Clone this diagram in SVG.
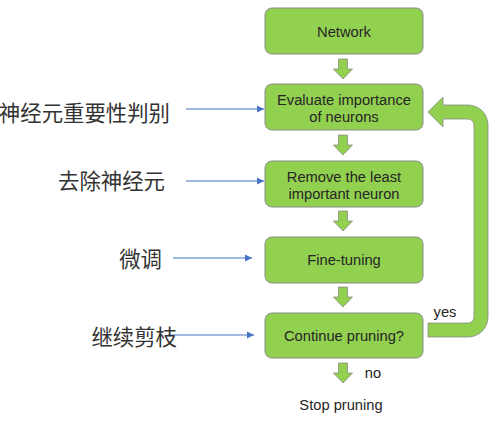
<svg xmlns="http://www.w3.org/2000/svg" width="498" height="424" viewBox="0 0 498 424">
<style>
.box{fill:#92D050;stroke:#8a8a8a;stroke-width:1}
.blk{fill:#92D050;stroke:#8a8a8a;stroke-width:0.8}
.t{font-family:"Liberation Sans",Arial,sans-serif;font-size:14.7px;fill:#262626;text-anchor:middle}
.cn{font-family:"Noto Sans CJK SC",sans-serif;font-size:21.4px;fill:#333333;text-anchor:end}
.bl{stroke:#4472C4;stroke-width:1;fill:none;marker-end:url(#ah)}
</style>
<defs>
<marker id="ah" markerUnits="userSpaceOnUse" markerWidth="8" markerHeight="8" viewBox="0 0 8 8" refX="7" refY="4" orient="auto">
<path d="M0,0.5 L7,4 L0,7.5 Z" fill="#4472C4"/>
</marker>
<path id="down" d="M-4.5,0 L4.5,0 L4.5,10 L9.5,10 L0,20 L-9.5,10 L-4.5,10 Z"/>
</defs>
<rect width="498" height="424" fill="#ffffff"/>
<g id="connectors">
<use href="#down" class="blk" x="343" y="59"/>
<use href="#down" class="blk" x="343" y="135"/>
<use href="#down" class="blk" x="343" y="211"/>
<use href="#down" class="blk" x="343" y="287"/>
<use href="#down" class="blk" x="343" y="363"/>
<path class="blk" d="M428,112 L443,97 L443,105 L468,105 A20,20 0 0 1 488,125 L488,317 A20,20 0 0 1 468,337 L428,337 L428,323 L468,323 A6,6 0 0 0 474,317 L474,125 A6,6 0 0 0 468,119 L443,119 L443,127 Z"/>
<line class="bl" x1="186" y1="109" x2="264" y2="109"/>
<line class="bl" x1="186" y1="181" x2="264" y2="181"/>
<line class="bl" x1="173" y1="258" x2="252" y2="258"/>
<line class="bl" x1="168" y1="335" x2="254" y2="335"/>
<text class="t" x="445" y="317">yes</text>
<text class="t" x="373" y="378">no</text>
</g>
<g id="network">
<rect class="box" x="265" y="8" width="158" height="46" rx="7"/>
<text class="t" x="344" y="37">Network</text>
</g>
<g id="evaluate">
<rect class="box" x="265" y="84" width="158" height="46" rx="7"/>
<text class="t" x="344" y="105">Evaluate importance</text>
<text class="t" x="344" y="122">of neurons</text>
</g>
<g id="remove">
<rect class="box" x="265" y="161" width="158" height="46" rx="7"/>
<text class="t" x="344" y="182">Remove the least</text>
<text class="t" x="344" y="199">important neuron</text>
</g>
<g id="finetune">
<rect class="box" x="265" y="237" width="158" height="46" rx="7"/>
<text class="t" x="344" y="265">Fine-tuning</text>
</g>
<g id="continue">
<rect class="box" x="265" y="313" width="158" height="45" rx="7"/>
<text class="t" x="344" y="341">Continue pruning?</text>
</g>
<g id="stop">
<text class="t" x="341" y="410">Stop pruning</text>
</g>
<g id="label-evaluate"><text class="cn" x="170" y="121">神经元重要性判别</text></g>
<g id="label-remove"><text class="cn" x="165" y="189">去除神经元</text></g>
<g id="label-finetune"><text class="cn" x="162" y="267">微调</text></g>
<g id="label-continue"><text class="cn" x="177" y="345">继续剪枝</text></g>
</svg>
